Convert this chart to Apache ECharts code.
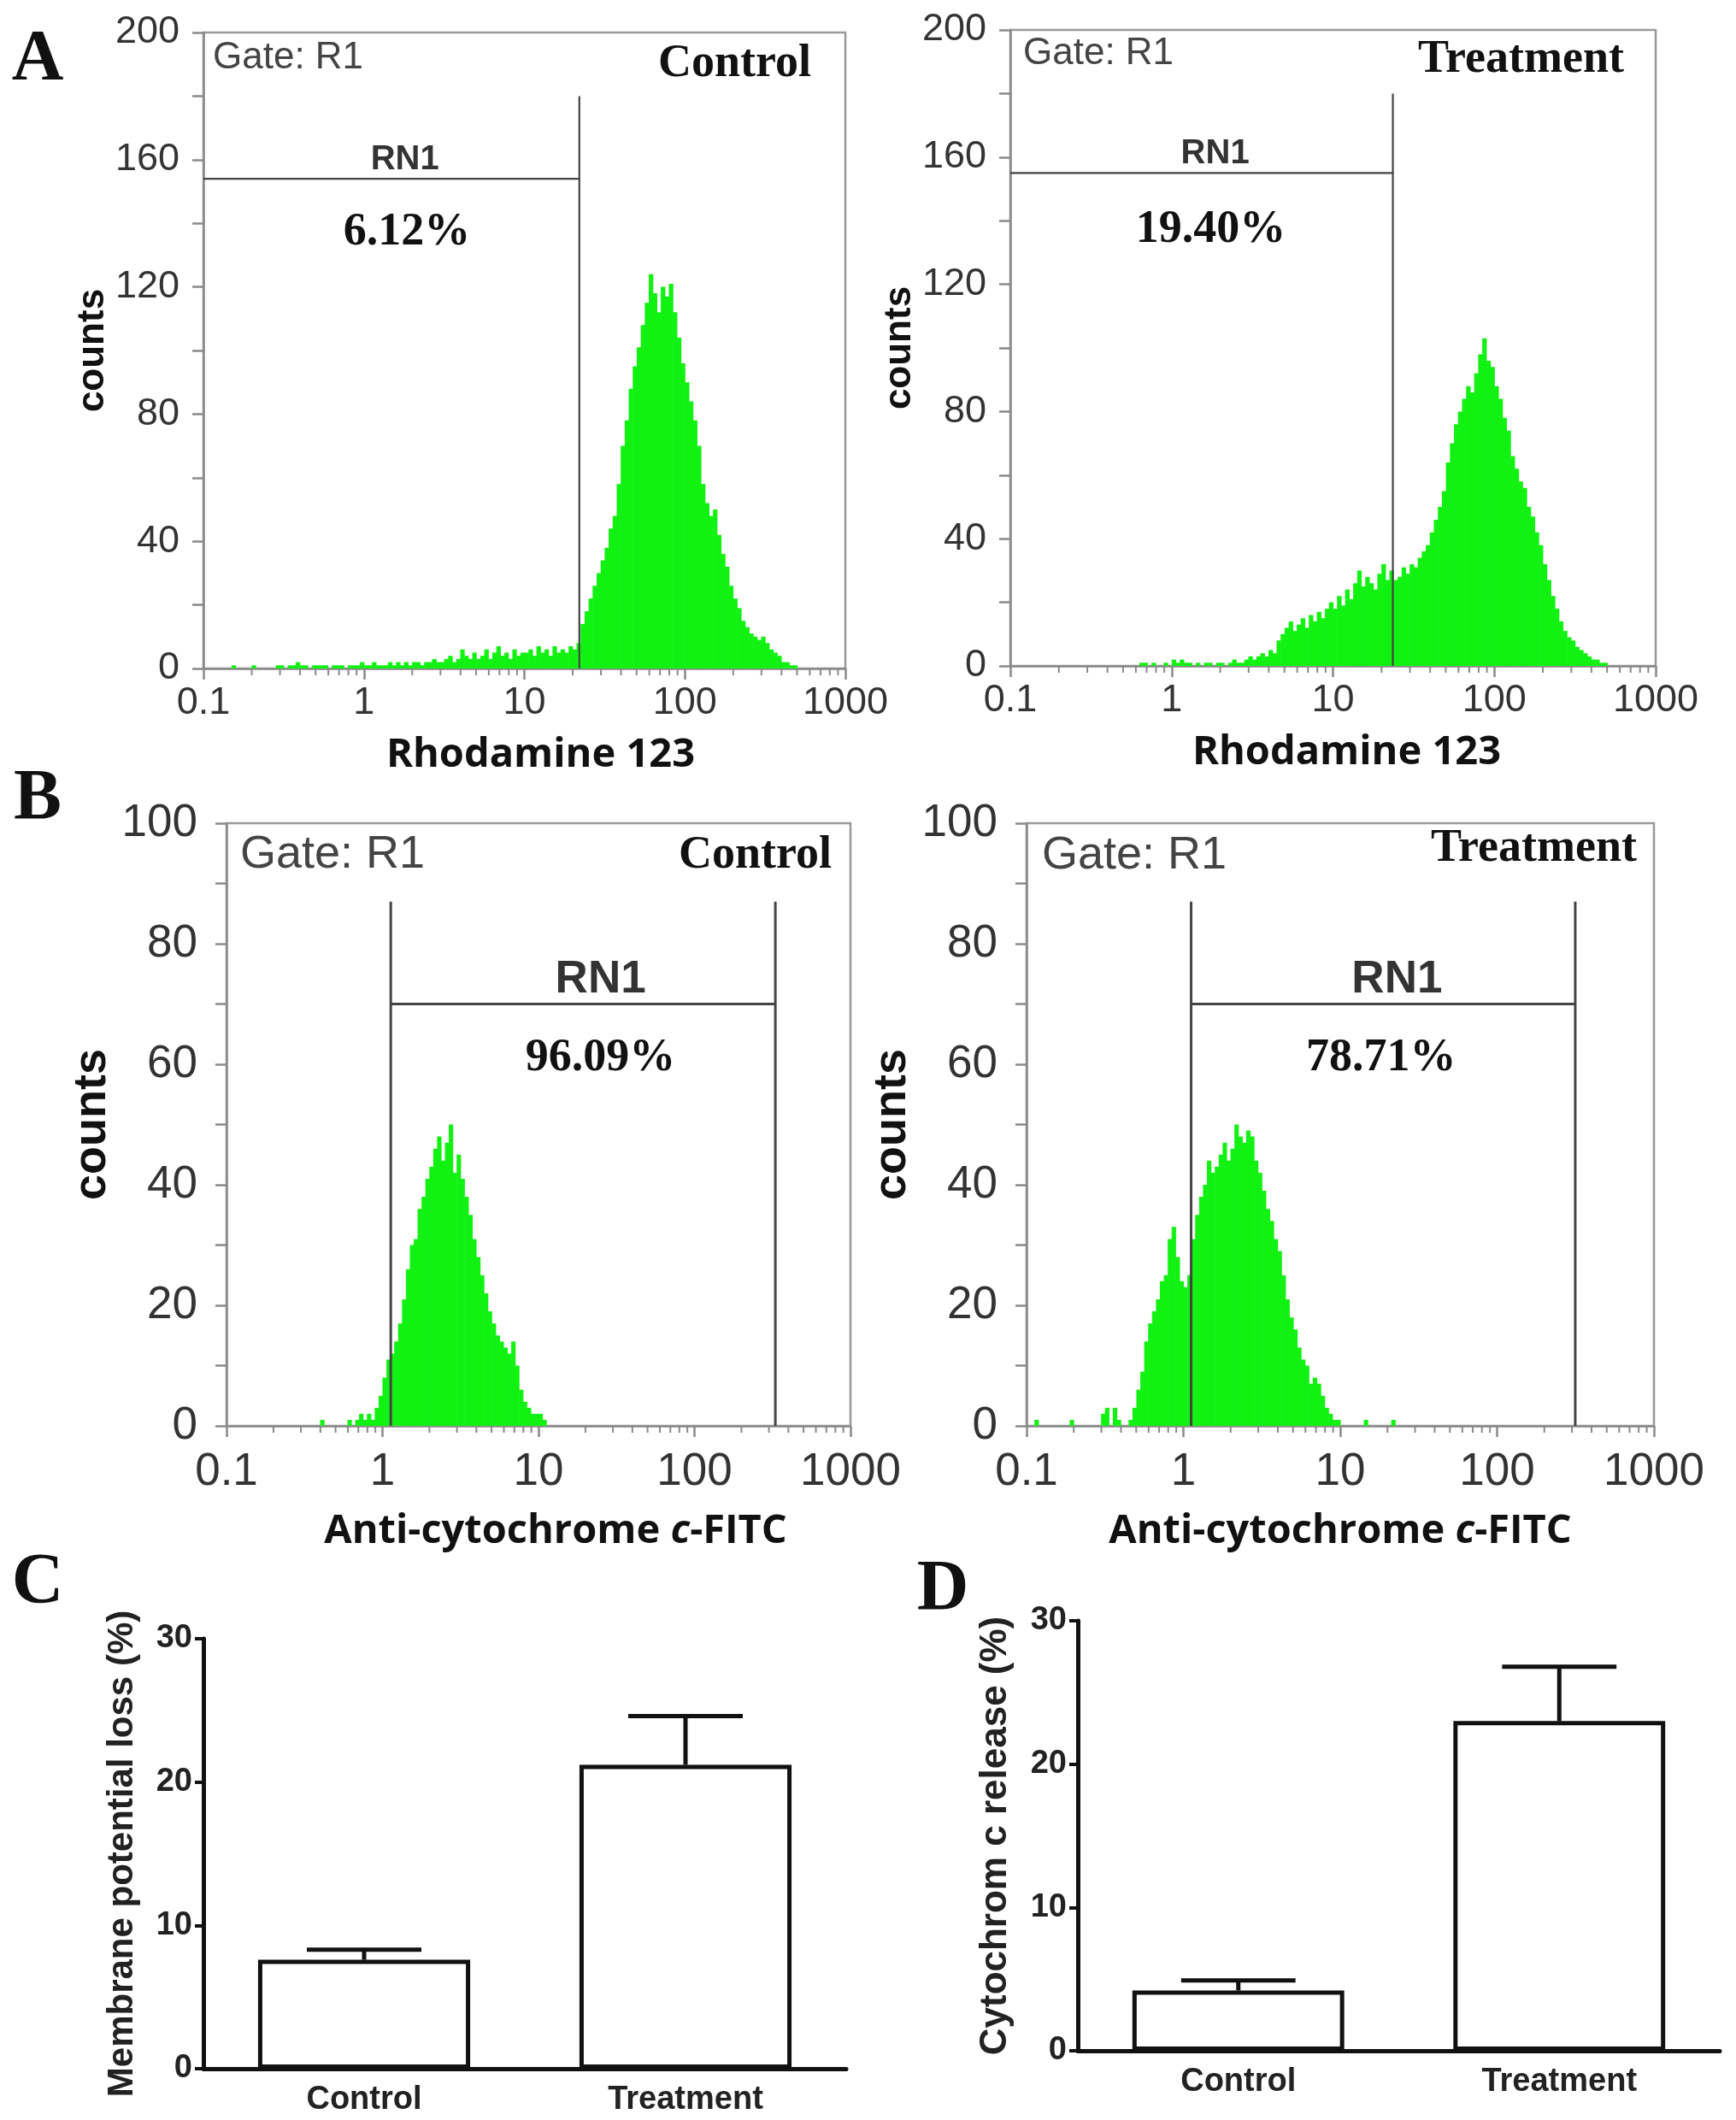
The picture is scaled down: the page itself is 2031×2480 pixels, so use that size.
<!DOCTYPE html>
<html>
<head>
<meta charset="utf-8">
<script src="https://cdn.jsdelivr.net/npm/echarts@6/dist/echarts.min.js"></script>
<style>
html, body { margin: 0; padding: 0; background: #fff; }
#chart { width: 2031px; height: 2480px; }
</style>
</head>
<body>
<div id="chart"></div>
<script>
// histogram channels: 40 bins per decade starting at 0.1
var binsPerDecade = 40, logStart = -1;

// A: Rhodamine 123, control
var ctrlRho = [
    0,0,0,0,0,0,0,1,0,0, 0,0,1,0,0,0,0,0,1,1, 0,1,1,2,1,1,0,1,1,1, 1,0,1,1,1,0,1,1,1,2,
    1,1,2,1,1,1,2,1,2,1, 2,1,2,2,1,2,2,3,2,2, 3,4,2,3,6,4,3,5,3,4, 6,3,5,7,4,5,3,6,4,5,
    5,6,4,7,5,6,4,7,5,6, 5,7,6,8,14,18,22,26,30,34, 38,44,48,58,70,78,88,95,101,108, 115,124,118,112,120,117,121,112,104,96,
    90,84,78,70,58,52,48,50,42,36, 32,26,22,19,15,13,11,10,9,10, 8,6,5,4,2,2,1,1,0,0, 0,0,0,0,0,0,0,0,0,0
];
// A: Rhodamine 123, treatment
var treatRho = [
    0,0,0,0,0,0,0,0,0,0, 0,0,0,0,0,0,0,0,0,0, 0,0,0,0,0,0,0,0,0,0, 0,0,1,1,0,1,0,0,1,0,
    2,1,2,1,1,0,1,0,1,1, 0,1,1,0,1,2,1,1,2,3, 2,3,4,3,5,4,8,10,12,14, 11,13,15,12,16,14,17,15,18,20,
    18,22,19,24,21,26,30,25,28,26, 24,29,32,27,30,27,28,31,29,32, 31,34,36,38,42,46,50,55,64,70, 76,80,84,88,86,92,98,103,96,94,
    88,84,78,74,66,62,58,56,50,47, 42,38,32,27,22,18,14,11,9,8, 6,5,4,3,2,2,1,1,0,0, 0,0,0,0,0,0,0,0,0,0
];
// B: anti-cytochrome c-FITC, control
var ctrlCyt = [
    0,0,0,0,0,0,0,0,0,0, 0,0,0,0,0,0,0,0,0,0, 0,0,0,0,1,0,0,0,0,0, 0,1,0,1,2,1,2,1,3,5,
    8,11,12,14,17,21,26,30,31,36, 38,41,43,46,48,44,47,50,42,45, 41,38,35,31,28,25,22,19,17,15, 14,13,12,14,10,6,4,3,2,2,
    2,1,0,0,0,0,0,0,0,0, 0,0,0,0,0,0,0,0,0,0, 0,0,0,0,0,0,0,0,0,0, 0,0,0,0,0,0,0,0,0,0,
    0,0,0,0,0,0,0,0,0,0, 0,0,0,0,0,0,0,0,0,0, 0,0,0,0,0,0,0,0,0,0, 0,0,0,0,0,0,0,0,0,0
];
// B: anti-cytochrome c-FITC, treatment
var treatCyt = [
    0,0,1,0,0,0,0,0,0,0, 0,1,0,0,0,0,0,0,0,2, 3,0,3,1,0,0,1,3,6,9, 14,17,19,21,24,25,31,33,28,24,
    23,25,31,35,38,40,44,42,43,45, 47,44,46,50,48,47,49,48,44,42, 39,36,34,31,29,25,21,18,16,13, 11,10,7,8,7,5,3,2,1,1,
    0,0,0,0,0,0,1,0,0,0, 0,0,0,1,0,0,0,0,0,0, 0,0,0,0,0,0,0,0,0,0, 0,0,0,0,0,0,0,0,0,0,
    0,0,0,0,0,0,0,0,0,0, 0,0,0,0,0,0,0,0,0,0, 0,0,0,0,0,0,0,0,0,0, 0,0,0,0,0,0,0,0,0,0
];

// RN1 gates
var rhoGateLo = [0.1, 0.1], rhoGateHi = [22, 23.5];
var cytGateLo = [1.13, 1.12], cytGateHi = [330, 315];
var rhoPct = ['6.12%', '19.40%'];
var cytPct = ['96.09%', '78.71%'];

// C, D bar charts
var barGroups = ['Control', 'Treatment'];
var mmpMean = [7.6, 21.2], mmpErr = [0.7, 3.4];
var cytcMean = [4.2, 23.0], cytcErr = [0.7, 3.8];

var sans = "'Liberation Sans', Arial, sans-serif";
var serif = "'Liberation Serif', 'Times New Roman', serif";
var green = '#12f212';

var toBins = function (counts) {
    var res = [];
    for (var i = 0; i < counts.length; i++) {
        if (counts[i] > 0) {
            res.push([
                Math.pow(10, logStart + i / binsPerDecade),
                Math.pow(10, logStart + (i + 1) / binsPerDecade),
                counts[i]
            ]);
        }
    }
    return res;
};

var minorLogTicks = function () {
    var res = [];
    for (var d = -1; d < 3; d++) {
        for (var k = 2; k < 10; k++) {
            res.push([k * Math.pow(10, d), 0]);
        }
    }
    return res;
};

var panels = [
    {   // A control
        grid: { left: 238, top: 38, width: 751, height: 744 },
        counts: ctrlRho, ymax: 200, yint: 40,
        gate: { lo: rhoGateLo[0], hi: rhoGateHi[0], y: 154, top: 180, both: false,
                rnX: 1.8, pct: rhoPct[0], pctX: 1.85, pctY: 137 },
        xname: 'Rhodamine 123', shift: 19, s: 'A'
    },
    {   // A treatment
        grid: { left: 1182, top: 35, width: 755, height: 744 },
        counts: treatRho, ymax: 200, yint: 40,
        gate: { lo: rhoGateLo[1], hi: rhoGateHi[1], y: 155, top: 180, both: false,
                rnX: 1.86, pct: rhoPct[1], pctX: 1.75, pctY: 137 },
        xname: 'Rhodamine 123', shift: 16, s: 'A'
    },
    {   // B control
        grid: { left: 265, top: 963, width: 730, height: 705 },
        counts: ctrlCyt, ymax: 100, yint: 20,
        gate: { lo: cytGateLo[0], hi: cytGateHi[0], y: 70, top: 87, both: true,
                rnX: 25, pct: cytPct[0], pctX: 25, pctY: 61 },
        xname: '{n|Anti-cytochrome }{i|c}{n|-FITC}', shift: 20, s: 'B'
    },
    {   // B treatment
        grid: { left: 1201, top: 963, width: 734, height: 705 },
        counts: treatCyt, ymax: 100, yint: 20,
        gate: { lo: cytGateLo[1], hi: cytGateHi[1], y: 70, top: 87, both: true,
                rnX: 23, pct: cytPct[1], pctX: 18.2, pctY: 61 },
        xname: '{n|Anti-cytochrome }{i|c}{n|-FITC}', shift: 0, s: 'B'
    }
];

var sty = {
    A: { tick: 45, xm: 18, ym: 28, name: 47, yname: 44, xgap: 78, ygap: 97, rn: 40, pct: 54, gateW: 2.2 },
    B: { tick: 53, xm: 28, ym: 34, name: 47, yname: 54, xgap: 100, ygap: 130, rn: 53, pct: 54, gateW: 3 }
};

var grids = [], xAxes = [], yAxes = [], series = [];

panels.forEach(function (p, k) {
    var st = sty[p.s];
    var nameFont = "'Open Sans', sans-serif";
    grids.push(Object.assign({ show: true, borderColor: '#9a9a9a', borderWidth: 2.5 }, p.grid));
    xAxes.push({
        type: 'log', logBase: 10, gridIndex: k, min: 0.1, max: 1000,
        axisLine: { lineStyle: { color: '#8a8a8a', width: 2.5 } },
        axisTick: { show: true, length: 13, lineStyle: { color: '#8a8a8a', width: 2.5 } },
        splitLine: { show: false },
        axisLabel: {
            fontFamily: sans, fontSize: st.tick, color: '#333', margin: st.xm,
            formatter: function (v) { return v < 1 ? v.toFixed(1) : String(Math.round(v)); }
        },
        name: p.xname, nameLocation: 'middle', nameGap: st.xgap,
        nameTextStyle: {
            fontFamily: nameFont, fontWeight: 'bold', fontSize: st.name, color: '#111',
            padding: [0, 0, 0, p.shift * 2],
            rich: {
                n: { fontFamily: nameFont, fontWeight: 'bold', fontSize: st.name, color: '#111' },
                i: { fontFamily: nameFont, fontWeight: 'bold', fontStyle: 'italic', fontSize: st.name, color: '#111' }
            }
        }
    });
    yAxes.push({
        type: 'value', gridIndex: k, min: 0, max: p.ymax, interval: p.yint,
        axisLine: { show: true, lineStyle: { color: '#8a8a8a', width: 2.5 } },
        axisTick: { show: true, length: 13, lineStyle: { color: '#8a8a8a', width: 2.5 } },
        minorTick: { show: true, splitNumber: 2, length: 13, lineStyle: { color: '#8a8a8a', width: 2.5 } },
        splitLine: { show: false },
        axisLabel: { fontFamily: sans, fontSize: st.tick, color: '#333', margin: st.ym },
        name: 'counts', nameLocation: 'middle', nameGap: st.ygap, nameRotate: 90,
        nameTextStyle: { fontFamily: sans, fontWeight: 'bold', fontSize: st.yname, color: '#111' }
    });

    // histogram
    series.push({
        type: 'custom', xAxisIndex: k, yAxisIndex: k, silent: true,
        data: toBins(p.counts),
        encode: { x: [0, 1], y: 2 },
        renderItem: function (params, api) {
            var a = api.coord([api.value(0), api.value(2)]);
            var b = api.coord([api.value(1), 0]);
            return {
                type: 'rect',
                shape: { x: a[0], y: a[1], width: b[0] - a[0] + 0.6, height: b[1] - a[1] },
                style: { fill: green }
            };
        }
    });

    // minor log ticks
    series.push({
        type: 'custom', xAxisIndex: k, yAxisIndex: k, silent: true,
        data: minorLogTicks(), encode: { x: 0, y: 1 },
        renderItem: function (params, api) {
            var c = api.coord([api.value(0), 0]);
            return {
                type: 'line',
                shape: { x1: c[0], y1: c[1], x2: c[0], y2: c[1] + 8 },
                style: { stroke: '#8a8a8a', lineWidth: 2 }
            };
        }
    });

    // RN1 gate
    var g = p.gate;
    series.push({
        type: 'custom', xAxisIndex: k, yAxisIndex: k, silent: true, z: 5,
        data: [[g.lo, g.y]], encode: { x: 0, y: 1 },
        renderItem: function (params, api) {
            var l = api.coord([g.lo, g.y]), r = api.coord([g.hi, g.y]);
            var rt = api.coord([g.hi, g.top]), rb = api.coord([g.hi, 0]);
            var lineStyle = { stroke: '#444', lineWidth: st.gateW };
            var kids = [
                { type: 'line', shape: { x1: l[0], y1: l[1], x2: r[0], y2: r[1] }, style: lineStyle },
                { type: 'line', shape: { x1: rt[0], y1: rt[1], x2: rb[0], y2: rb[1] }, style: lineStyle }
            ];
            if (g.both) {
                var lt = api.coord([g.lo, g.top]), lb = api.coord([g.lo, 0]);
                kids.push({ type: 'line', shape: { x1: lt[0], y1: lt[1], x2: lb[0], y2: lb[1] }, style: lineStyle });
            }
            var rn = api.coord([g.rnX, g.y]);
            kids.push({
                type: 'text', x: rn[0], y: rn[1] - 2,
                style: { text: 'RN1', fontFamily: sans, fontWeight: 'bold', fontSize: st.rn, fill: '#333',
                         align: 'center', verticalAlign: 'bottom' }
            });
            var pc = api.coord([g.pctX, g.pctY]);
            kids.push({
                type: 'text', x: pc[0], y: pc[1],
                style: { text: g.pct, fontFamily: serif, fontWeight: 'bold', fontSize: st.pct, fill: '#111',
                         align: 'center', verticalAlign: 'middle' }
            });
            return { type: 'group', children: kids };
        }
    });
});

// bar panels C, D
var barPanels = [
    { grid: { left: 238, top: 1917, width: 752, height: 503 }, mean: mmpMean, err: mmpErr,
      yname: 'Membrane potential loss (%)', nsize: 42 },
    { grid: { left: 1261, top: 1896, width: 751, height: 503 }, mean: cytcMean, err: cytcErr,
      yname: 'Cytochrom c release (%)', nsize: 44 }
];

barPanels.forEach(function (p, j) {
    var k = panels.length + j;
    grids.push(p.grid);
    xAxes.push({
        type: 'category', gridIndex: k, data: barGroups,
        axisLine: { lineStyle: { color: '#111', width: 5 } },
        axisTick: { alignWithLabel: true, length: 12, lineStyle: { color: '#111', width: 4 } },
        axisLabel: { fontFamily: sans, fontWeight: 'bold', fontSize: 38, color: '#222', margin: 18 }
    });
    yAxes.push({
        type: 'value', gridIndex: k, min: 0, max: 30, interval: 10,
        axisLine: { show: true, lineStyle: { color: '#111', width: 5 } },
        axisTick: { show: true, length: 10, lineStyle: { color: '#111', width: 4 } },
        splitLine: { show: false },
        axisLabel: { fontFamily: sans, fontWeight: 'bold', fontSize: 38, color: '#222', margin: 13 },
        name: p.yname, nameLocation: 'middle', nameGap: 74, nameRotate: 90,
        nameTextStyle: { fontFamily: sans, fontWeight: 'bold', fontSize: p.nsize, color: '#222' }
    });
    series.push({
        type: 'bar', xAxisIndex: k, yAxisIndex: k, silent: true,
        data: p.mean, barWidth: '66%',
        itemStyle: { color: '#fff', borderColor: '#111', borderWidth: 5 }
    });
    series.push({
        type: 'custom', xAxisIndex: k, yAxisIndex: k, silent: true, z: 5,
        data: barGroups.map(function (name, i) { return [i, p.mean[i], p.err[i]]; }),
        encode: { x: 0, y: 1 },
        renderItem: function (params, api) {
            var base = api.coord([api.value(0), api.value(1)]);
            var top = api.coord([api.value(0), api.value(1) + api.value(2)]);
            var half = api.size([1, 0])[0] * 0.66 * 0.27;
            var ls = { stroke: '#111', lineWidth: 5 };
            return {
                type: 'group',
                children: [
                    { type: 'line', shape: { x1: base[0], y1: base[1], x2: top[0], y2: top[1] }, style: ls },
                    { type: 'line', shape: { x1: top[0] - half, y1: top[1], x2: top[0] + half, y2: top[1] }, style: ls }
                ]
            };
        }
    });
});

var txt = function (text, x, y, font, size, align, color) {
    return {
        type: 'text', x: x, y: y, silent: true,
        style: { text: text, fontFamily: font, fontWeight: font === sans ? 'normal' : 'bold', fontSize: size,
                 fill: color || '#111', align: align, verticalAlign: 'middle' }
    };
};

var graphics = [
    txt('A', 44, 71, serif, 84, 'center'),
    txt('B', 44, 936, serif, 84, 'center'),
    txt('C', 44, 1853, serif, 84, 'center'),
    txt('D', 1103, 1861, serif, 84, 'center'),
    txt('Gate: R1', 249, 68, sans, 44, 'left', '#444'),
    txt('Control', 949, 75, serif, 54, 'right'),
    txt('Gate: R1', 1197, 63, sans, 44, 'left', '#444'),
    txt('Treatment', 1900, 70, serif, 54, 'right'),
    txt('Gate: R1', 281, 1000, sans, 54, 'left', '#444'),
    txt('Control', 973, 1001, serif, 54, 'right'),
    txt('Gate: R1', 1219, 1001, sans, 54, 'left', '#444'),
    txt('Treatment', 1915, 993, serif, 54, 'right')
];

var myChart = echarts.init(document.getElementById('chart'));
myChart.setOption({
    backgroundColor: '#fff',
    animation: false,
    grid: grids,
    xAxis: xAxes,
    yAxis: yAxes,
    series: series,
    graphic: graphics
});
</script>
</body>
</html>
